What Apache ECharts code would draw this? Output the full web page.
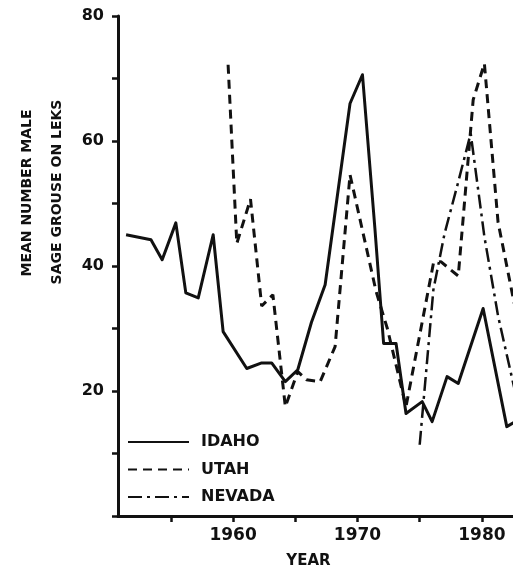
<!DOCTYPE html>
<html>
<head>
    <meta charset="UTF-8">
    <title></title>
    <script type="text/javascript" src="https://cdn.jsdelivr.net/npm/echarts@6/dist/echarts.min.js"></script>
    <style>
        html, body { margin: 0; padding: 0; background: #fff; }
    </style>
</head>
<body>
<div id="main" style="width: 513px;height:577px;"></div>
<script type="text/javascript">
    // years (points sit a little past each whole year)
    var idahoYears = [1951.4, 1953.4, 1954.3, 1955.4, 1956.2, 1957.2, 1958.4, 1959.2, 1961.1, 1962.3, 1963.1, 1964.2, 1965.2, 1966.3, 1967.4, 1969.4, 1970.4, 1971.4, 1972.1, 1973.1, 1973.9, 1975.2, 1976.0, 1977.2, 1978.1, 1980.1, 1982.0, 1982.6];
    var idahoVals = [45.0, 44.2, 41.0, 46.9, 35.7, 34.9, 45.0, 29.5, 23.6, 24.5, 24.5, 21.5, 23.4, 31.0, 37.0, 66.0, 70.6, 46.0, 27.6, 27.6, 16.4, 18.3, 15.1, 22.3, 21.2, 33.2, 14.3, 15.0];

    var utahYears = [1959.6, 1960.3, 1961.4, 1962.3, 1963.2, 1964.2, 1965.2, 1965.9, 1967.0, 1968.2, 1969.4, 1971.5, 1972.4, 1973.9, 1976.1, 1976.7, 1978.1, 1979.3, 1980.2, 1981.3, 1982.6];
    var utahVals = [72.2, 43.6, 50.7, 33.6, 35.4, 17.5, 23.1, 21.8, 21.5, 27.1, 54.6, 35.9, 30.0, 17.5, 40.4, 40.7, 38.4, 66.6, 72.4, 47.0, 34.0];

    var nevadaYears = [1975.0, 1976.1, 1977.0, 1978.0, 1979.1, 1980.2, 1981.3, 1982.6];
    var nevadaVals = [11.4, 36.2, 45.2, 52.7, 61.2, 44.7, 32.0, 20.5];

    var xTicks = [1955, 1960, 1965, 1970, 1975, 1980];
    var xLabels = [1960, 1970, 1980];

    function pairs(xs, ys) {
        var out = [];
        for (var i = 0; i < xs.length; i++) {
            out.push([xs[i], ys[i]]);
        }
        return out;
    }

    var ink = '#111';
    var font = '"DejaVu Sans", sans-serif';

    var myChart = echarts.init(document.getElementById('main'));

    option = {
        animation: false,
        backgroundColor: '#fff',
        grid: {
            left: 118,
            right: 0,
            top: 16,
            bottom: 61
        },
        legend: {
            orient: 'vertical',
            left: 122,
            top: 429,
            itemWidth: 61,
            itemHeight: 14,
            itemGap: 11.5,
            itemStyle: { opacity: 0 },
            data: ['IDAHO', 'UTAH', 'NEVADA'],
            textStyle: {
                color: ink,
                fontFamily: font,
                fontWeight: 'bold',
                fontSize: 16,
                padding: [0, 0, 0, 7]
            }
        },
        graphic: [
            {
                type: 'text',
                x: 27,
                y: 193,
                rotation: Math.PI / 2,
                style: {
                    text: 'MEAN NUMBER MALE',
                    fill: ink,
                    font: 'bold 14px ' + font,
                    align: 'center',
                    verticalAlign: 'middle'
                }
            },
            {
                type: 'text',
                x: 57,
                y: 192,
                rotation: Math.PI / 2,
                style: {
                    text: 'SAGE GROUSE ON LEKS',
                    fill: ink,
                    font: 'bold 14px ' + font,
                    align: 'center',
                    verticalAlign: 'middle'
                }
            }
        ],
        xAxis: {
            type: 'value',
            min: 1950.75,
            max: 1982.5,
            name: 'YEAR',
            nameLocation: 'middle',
            nameGap: 38,
            nameTextStyle: {
                color: ink,
                fontFamily: font,
                fontWeight: 'bold',
                fontSize: 15,
                padding: [0, 14, 0, 0]
            },
            axisLine: { lineStyle: { color: ink, width: 3 } },
            axisTick: {
                customValues: xTicks,
                length: 6,
                lineStyle: { color: ink, width: 2.5 }
            },
            axisLabel: {
                customValues: xLabels,
                margin: 11,
                color: ink,
                fontFamily: font,
                fontWeight: 'bold',
                fontSize: 17,
                formatter: function (v) {
                    return String(v);
                }
            },
            splitLine: { show: false }
        },
        yAxis: {
            type: 'value',
            min: 0,
            max: 80,
            interval: 10,
            axisLine: { show: true, lineStyle: { color: ink, width: 3 } },
            axisTick: {
                show: true,
                length: 6,
                lineStyle: { color: ink, width: 2.5 }
            },
            axisLabel: {
                margin: 14,
                color: ink,
                fontFamily: font,
                fontWeight: 'bold',
                fontSize: 16,
                formatter: function (v) {
                    return (v > 0 && v % 20 === 0) ? String(v) : '';
                }
            },
            splitLine: { show: false }
        },
        series: [
            {
                name: 'IDAHO',
                type: 'line',
                symbol: 'none',
                color: ink,
                lineStyle: { color: ink, width: 3, join: 'round' },
                data: pairs(idahoYears, idahoVals)
            },
            {
                name: 'UTAH',
                type: 'line',
                symbol: 'none',
                color: ink,
                lineStyle: { color: ink, width: 3, type: [9, 6] },
                data: pairs(utahYears, utahVals)
            },
            {
                name: 'NEVADA',
                type: 'line',
                symbol: 'none',
                color: ink,
                lineStyle: { color: ink, width: 2.5, type: [14, 5, 3, 5] },
                data: pairs(nevadaYears, nevadaVals)
            }
        ]
    };

    myChart.setOption(option);
</script>
</body>
</html>
